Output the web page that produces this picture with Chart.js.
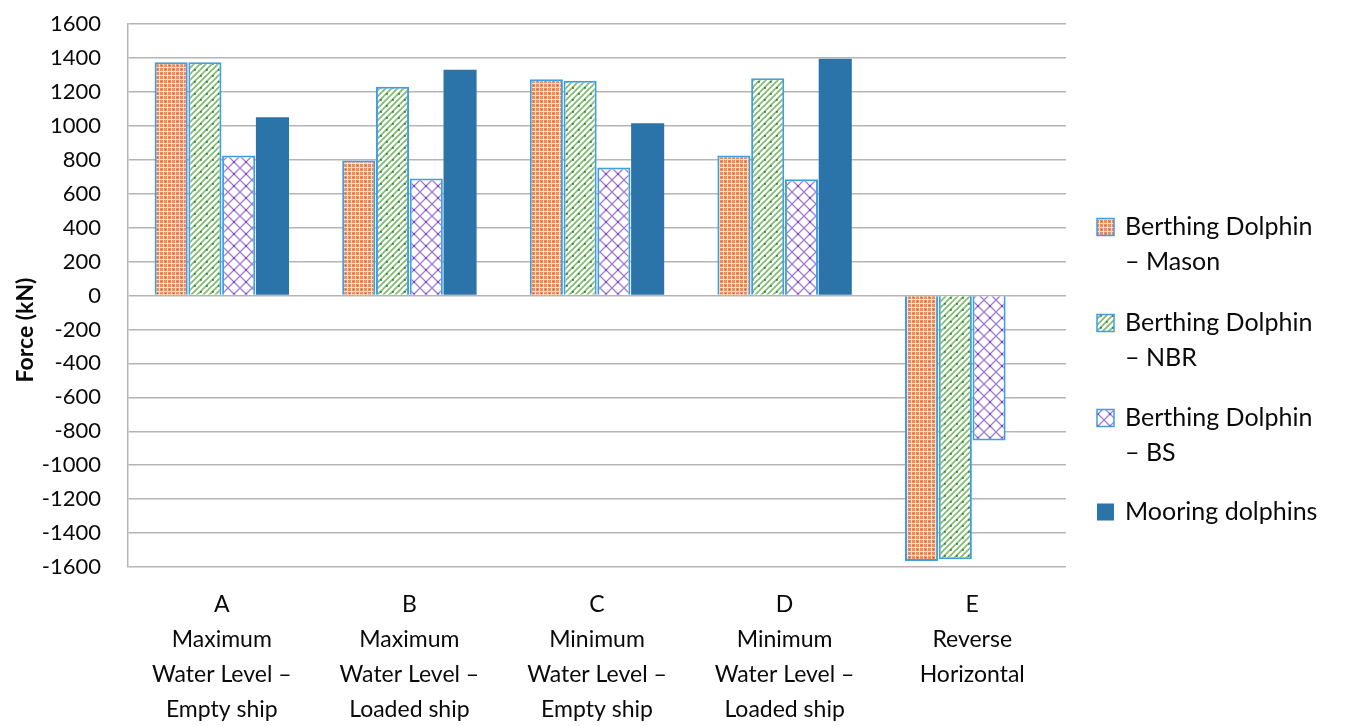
<!DOCTYPE html>
<html>
<head>
<meta charset="utf-8">
<script src="https://cdn.jsdelivr.net/npm/chart.js@4.4.1/dist/chart.umd.min.js"></script>
<style>
html,body{margin:0;padding:0;background:#fff;}
#wrap{position:relative;width:1365px;height:726px;}
</style>
</head>
<body>
<div id="wrap"><canvas id="c" width="1365" height="726"></canvas></div>
<script>
// ---- data ----
const categories = ['A', 'B', 'C', 'D', 'E'];
const categoryDescriptions = [
  ['Maximum', 'Water Level –', 'Empty ship'],
  ['Maximum', 'Water Level –', 'Loaded ship'],
  ['Minimum', 'Water Level –', 'Empty ship'],
  ['Minimum', 'Water Level –', 'Loaded ship'],
  ['Reverse', 'Horizontal']
];
const seriesNames = ['Berthing Dolphin – Mason', 'Berthing Dolphin – NBR', 'Berthing Dolphin – BS', 'Mooring dolphins'];
const legendLines = [['Berthing Dolphin', '– Mason'], ['Berthing Dolphin', '– NBR'], ['Berthing Dolphin', '– BS'], ['Mooring dolphins']];
const masonValues = [1375, 795, 1275, 825, -1565];
const nbrValues = [1375, 1230, 1265, 1280, -1555];
const bsValues = [825, 690, 755, 685, -855];
const mooringValues = [1050, 1330, 1015, 1395, null];
const yTickValues = [-1600, -1400, -1200, -1000, -800, -600, -400, -200, 0, 200, 400, 600, 800, 1000, 1200, 1400, 1600];
const yAxisTitle = 'Force (kN)';

// ---- patterns ----
const canvas = document.getElementById('c');
const ctx = canvas.getContext('2d');
function makePattern(w, h, bg, draw) {
  const t = document.createElement('canvas');
  t.width = w; t.height = h;
  const g = t.getContext('2d');
  g.fillStyle = bg;
  g.fillRect(0, 0, w, h);
  draw(g, w, h);
  return ctx.createPattern(t, 'repeat');
}
const masonPattern = makePattern(8, 8, '#fbe0cf', (g) => {
  g.fillStyle = '#eb8d5c';
  for (let i = 0; i < 8; i += 4) for (let j = 0; j < 8; j += 4) g.fillRect(i, j, 3, 3);
  g.fillStyle = '#cc4f24';
  g.fillRect(1, 1, 1, 1);
  g.fillRect(5, 5, 1, 1);
});
const nbrPattern = makePattern(12, 12, '#ffffff', (g) => {
  g.strokeStyle = '#7fbb6c';
  g.lineWidth = 1.6;
  g.beginPath();
  for (let k = -12; k <= 24; k += 6) { g.moveTo(k - 1, 13); g.lineTo(k + 13, -1); }
  g.stroke();
  g.fillStyle = '#2f8a3c';
  g.fillRect(2, 9, 1.8, 1.8);
  g.fillRect(8, 3, 1.8, 1.8);
});
const bsPattern = makePattern(12, 12, '#ffffff', (g) => {
  g.strokeStyle = '#a37bd6';
  g.lineWidth = 1.3;
  g.beginPath();
  g.moveTo(0, 0); g.lineTo(12, 12);
  g.moveTo(0, 12); g.lineTo(12, 0);
  g.stroke();
  g.fillStyle = '#7b45c4';
  g.fillRect(5, 5, 2, 2);
});
const mooringColor = '#2a74aa';
const barBorder = '#3f9fe0';

const fills = [masonPattern, nbrPattern, bsPattern, mooringColor];

const FONT = 'Lato, "Open Sans", sans-serif';
const TEXT = '#0a0a0a';

const legendPlugin = {
  id: 'customLegend',
  afterDraw(chart) {
    const c = chart.ctx;
    c.save();
    const boxX = 1097, boxS = 17, textX = 1125;
    const firstLineY = [227, 323, 418, 512];
    const lineGap = 35;
    c.font = '25px ' + FONT;
    c.textBaseline = 'middle';
    c.textAlign = 'left';
    chart.data.datasets.forEach((ds, i) => {
      const y = firstLineY[i];
      c.fillStyle = ds.backgroundColor;
      c.fillRect(boxX, y - boxS / 2, boxS, boxS);
      if (ds.borderWidth) {
        c.strokeStyle = ds.borderColor;
        c.lineWidth = 1.5;
        c.strokeRect(boxX, y - boxS / 2, boxS, boxS);
      }
      c.fillStyle = TEXT;
      legendLines[i].forEach((ln, k) => c.fillText(ln, textX, y + k * lineGap));
    });
    c.translate(26, 330);
    c.rotate(-Math.PI / 2);
    c.font = 'bold 23px ' + FONT;
    c.textAlign = 'center';
    c.textBaseline = 'middle';
    c.fillStyle = TEXT;
    c.fillText(yAxisTitle, 0, 0);
    c.restore();
  }
};

new Chart(ctx, {
  type: 'bar',
  data: {
    labels: categories.map((c, i) => [c, ...categoryDescriptions[i]]),
    datasets: [
      { label: seriesNames[0], data: masonValues, backgroundColor: fills[0], borderColor: barBorder, borderWidth: 2 },
      { label: seriesNames[1], data: nbrValues, backgroundColor: fills[1], borderColor: barBorder, borderWidth: 2 },
      { label: seriesNames[2], data: bsValues, backgroundColor: fills[2], borderColor: barBorder, borderWidth: 2 },
      { label: seriesNames[3], data: mooringValues, backgroundColor: fills[3], borderWidth: 0 }
    ]
  },
  options: {
    responsive: false,
    animation: false,
    devicePixelRatio: 1,
    layout: { padding: { top: 24, right: 299, bottom: 0, left: 0 } },
    datasets: { bar: { categoryPercentage: 0.72, barPercentage: 0.98 } },
    plugins: {
      legend: { display: false },
      tooltip: { enabled: false },
      title: { display: false }
    },
    scales: {
      x: {
        grid: { display: false, drawTicks: false },
        border: { display: false },
        ticks: {
          color: TEXT,
          font: { family: FONT, size: 23, lineHeight: 1.52 },
          padding: 20,
          maxRotation: 0,
          autoSkip: false
        },
        afterFit(scale) { scale.height = 159; }
      },
      y: {
        min: -1600,
        max: 1600,
        afterBuildTicks(scale) { scale.ticks = yTickValues.map(v => ({ value: v })); },
        grid: { color: '#b5b5b5', lineWidth: 1.5, drawTicks: true, tickLength: 24, tickColor: 'rgba(0,0,0,0)' },
        border: { display: true, color: '#b5b5b5', width: 1.5 },
        ticks: {
          color: TEXT,
          font: { family: FONT, size: 22 },
          padding: 3,
          callback: (v) => String(v)
        },
        afterFit(scale) { scale.width = 128; }
      }
    }
  },
  plugins: [legendPlugin]
});
</script>
</body>
</html>
